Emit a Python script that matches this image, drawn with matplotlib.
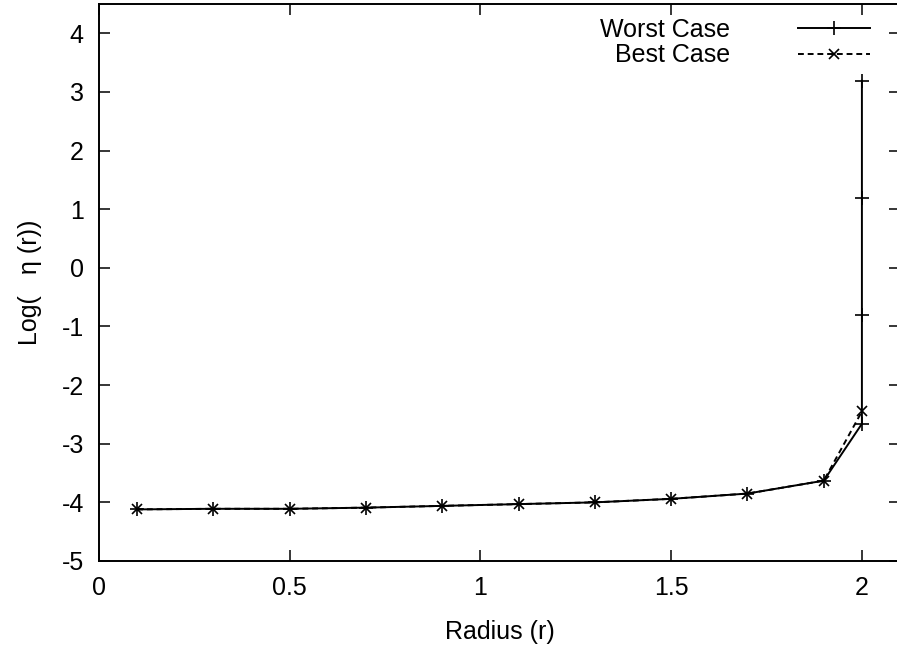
import matplotlib
matplotlib.use("Agg")
import matplotlib.pyplot as plt

plt.rcParams["font.family"] = ["Liberation Sans", "DejaVu Sans"]
plt.rcParams["axes.unicode_minus"] = False

# Radius values and log(eta)
radius_best = [0.1, 0.3, 0.5, 0.7, 0.9, 1.1, 1.3, 1.5, 1.7, 1.9, 2.0]
log_eta_best = [-4.12, -4.11, -4.11, -4.09, -4.06, -4.03, -4.00, -3.94, -3.85, -3.63, -2.45]

radius_worst = [0.1, 0.3, 0.5, 0.7, 0.9, 1.1, 1.3, 1.5, 1.7, 1.9, 2.0, 2.0, 2.0, 2.0]
log_eta_worst = [-4.12, -4.11, -4.11, -4.09, -4.06, -4.03, -4.00, -3.94, -3.85, -3.63,
                 -2.66, -0.81, 1.19, 3.19]

x_ticks = [0, 0.5, 1, 1.5, 2]
x_tick_labels = ["0", "0.5", "1", "1.5", "2"]
y_ticks = [-5, -4, -3, -2, -1, 0, 1, 2, 3, 4]

fs = 18
fig = plt.figure(figsize=(8.97, 6.46), dpi=100)
ax = fig.add_axes([0.1104, 0.1316, 0.893, 0.8622])

ax.plot(radius_worst, log_eta_worst, color="black", lw=1.4, ls="-",
        marker="+", ms=10, mew=1.2, label="Worst Case")
ax.plot(radius_best, log_eta_best, color="black", lw=1.4, ls=(0, (3, 2)),
        marker="x", ms=7, mew=1.2, label="Best Case")

ax.set_xlim(0, 2.1)
ax.set_ylim(-5, 4.5)
ax.set_xticks(x_ticks)
ax.set_xticklabels(x_tick_labels)
ax.set_yticks(y_ticks)
ax.tick_params(direction="in", length=8, width=1.1, top=True, right=True,
               labelsize=fs)
ax.tick_params(axis="x", pad=11)
ax.tick_params(axis="y", pad=11)
for s in ax.spines.values():
    s.set_linewidth(1.4)

ax.set_xlabel("Radius (r)", fontsize=fs, labelpad=14)
ax.set_ylabel("Log(   \u03b7 (r))", fontsize=fs, labelpad=14)

leg = ax.legend(loc="upper right", bbox_to_anchor=(870 / 897, 1 - 18 / 646),
                bbox_transform=fig.transFigure, frameon=False, fontsize=fs,
                markerfirst=False, handlelength=2.9, handletextpad=2.7,
                labelspacing=0.05, borderpad=0, borderaxespad=0)

fig.savefig("out.png", dpi=100)
